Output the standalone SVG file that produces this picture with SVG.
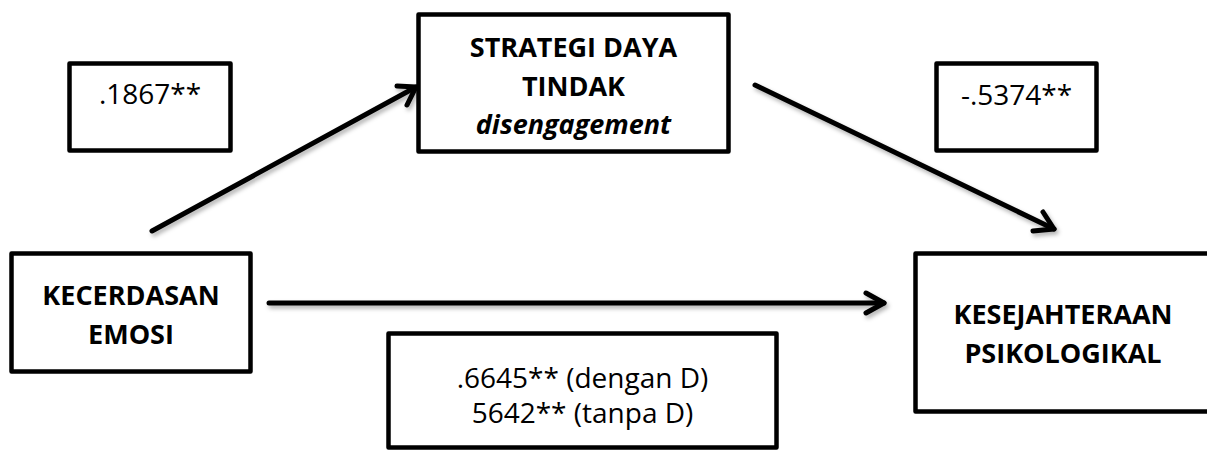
<svg xmlns="http://www.w3.org/2000/svg" width="1207" height="450" viewBox="0 0 1207 450">
  <style>
    .box { fill: #ffffff; stroke: #000000; stroke-width: 4.5; stroke-linejoin: round; }
    .reg { font-family: "Open Sans", "Liberation Sans", sans-serif; font-size: 28px; fill: #000000; text-anchor: middle; }
    .bold { font-family: "Open Sans", "Liberation Sans", sans-serif; font-size: 27px; font-weight: bold; fill: #000000; text-anchor: middle; }
    .ital { font-style: italic; }
    .conn { fill: none; stroke: #000000; stroke-width: 5; stroke-linecap: round; stroke-linejoin: round; }
  </style>
  <defs>
    <filter id="shadow" x="-10%" y="-10%" width="120%" height="140%">
      <feDropShadow dx="2" dy="3" stdDeviation="2" flood-color="#000000" flood-opacity="0.3"/>
    </filter>
  </defs>
  <rect x="0" y="0" width="1207" height="450" fill="#ffffff"/>

  <g id="connectors" filter="url(#shadow)">
    <g id="edge-ke-strategi">
      <line class="conn" x1="152" y1="231" x2="416" y2="87"/>
      <polyline class="conn" points="397,86 416,87 407,105"/>
    </g>
    <g id="edge-strategi-kesejahteraan">
      <line class="conn" x1="755" y1="85" x2="1054" y2="229"/>
      <polyline class="conn" points="1043,212 1054,229 1033,231"/>
    </g>
    <g id="edge-ke-kesejahteraan">
      <line class="conn" x1="269" y1="303" x2="884" y2="303"/>
      <polyline class="conn" points="866,293 884,303 866,313"/>
    </g>
  </g>

  <g id="label-a">
    <rect class="box" x="69.5" y="63.5" width="161" height="87"/>
    <text class="reg" x="150" y="104">.1867**</text>
  </g>

  <g id="node-strategi">
    <rect class="box" x="418.5" y="14.5" width="310" height="137"/>
    <text class="bold" x="573.5" y="57">STRATEGI DAYA</text>
    <text class="bold" x="573.5" y="96">TINDAK</text>
    <text class="bold ital" x="573.5" y="134">disengagement</text>
  </g>

  <g id="label-b">
    <rect class="box" x="936.5" y="63.5" width="160" height="87"/>
    <text class="reg" x="1016.5" y="105">-.5374**</text>
  </g>

  <g id="node-kecerdasan">
    <rect class="box" x="11.5" y="253.5" width="239" height="118"/>
    <text class="bold" x="131" y="305">KECERDASAN</text>
    <text class="bold" x="131" y="344">EMOSI</text>
  </g>

  <g id="node-kesejahteraan">
    <rect class="box" x="915.5" y="253.5" width="300" height="158"/>
    <text class="bold" x="1063" y="324">KESEJAHTERAAN</text>
    <text class="bold" x="1063" y="363">PSIKOLOGIKAL</text>
  </g>

  <g id="label-c">
    <rect class="box" x="388.5" y="333.5" width="388" height="114"/>
    <text class="reg" x="582.5" y="388">.6645** (dengan D)</text>
    <text class="reg" x="582.5" y="423">5642** (tanpa D)</text>
  </g>
</svg>
